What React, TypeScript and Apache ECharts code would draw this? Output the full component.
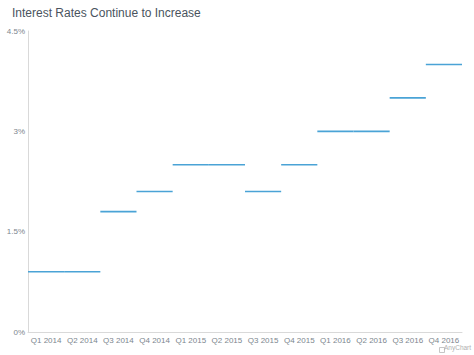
import React, { useEffect, useRef } from "react";
import * as echarts from "echarts";

const categories = ["Q1 2014", "Q2 2014", "Q3 2014", "Q4 2014", "Q1 2015", "Q2 2015", "Q3 2015", "Q4 2015", "Q1 2016", "Q2 2016", "Q3 2016", "Q4 2016"];
const rates = [0.9, 0.9, 1.8, 2.1, 2.5, 2.5, 2.1, 2.5, 3.0, 3.0, 3.5, 4.0];
const yTicks = { min: 0, max: 4.5, interval: 1.5 };

export default function App() {
  const ref = useRef<HTMLDivElement>(null);
  useEffect(() => {
    document.body.style.margin = "0";
    const chart = echarts.init(ref.current!, null, { renderer: "svg" });
    chart.setOption({
      animation: false,
      textStyle: { fontFamily: "Liberation Sans" },
      title: {
        text: "Interest Rates Continue to Increase",
        left: 7,
        top: 2,
        textStyle: { fontSize: 12, fontWeight: "normal", color: "#4a545e", fontFamily: "Liberation Sans" },
      },
      graphic: [
        {
          type: "rect",
          left: 437,
          top: 345,
          shape: { width: 5, height: 5 },
          style: { fill: "none", stroke: "#b8b8b8", lineWidth: 0.8 },
        },
        {
          type: "text",
          left: 444,
          top: 344,
          style: { text: "AnyChart", fontSize: 6.5, fill: "#b0b0b0", fontFamily: "Liberation Sans" },
        },
      ],
      grid: { left: 28, right: 12, top: 31, bottom: 23 },
      xAxis: {
        type: "category",
        data: categories,
        axisLine: { lineStyle: { color: "#d9d9d9" } },
        axisTick: { show: false },
        axisLabel: { color: "#7c868e", fontSize: 8, margin: 4, interval: 0 },
        splitLine: { show: false },
      },
      yAxis: {
        type: "value",
        min: yTicks.min,
        max: yTicks.max,
        interval: yTicks.interval,
        axisLine: { show: true, lineStyle: { color: "#d9d9d9" } },
        axisTick: { show: false },
        splitLine: { show: false },
        axisLabel: { color: "#7c868e", fontSize: 8, margin: 3, formatter: (v: number) => v + "%" },
      },
      series: [
        {
          type: "custom",
          data: rates.map((v, i) => [i, v]),
          encode: { x: 0, y: 1 },
          renderItem: (params: any, api: any) => {
            const p = api.coord([api.value(0), api.value(1)]);
            const w = api.size([1, 0])[0];
            return {
              type: "line",
              shape: { x1: p[0] - w / 2, y1: p[1], x2: p[0] + w / 2, y2: p[1] },
              style: { stroke: "#4aa3d6", lineWidth: 1.6 },
            };
          },
        },
      ],
    });
    return () => chart.dispose();
  }, []);
  return <div ref={ref} style={{ width: 474, height: 355 }} />;
}
